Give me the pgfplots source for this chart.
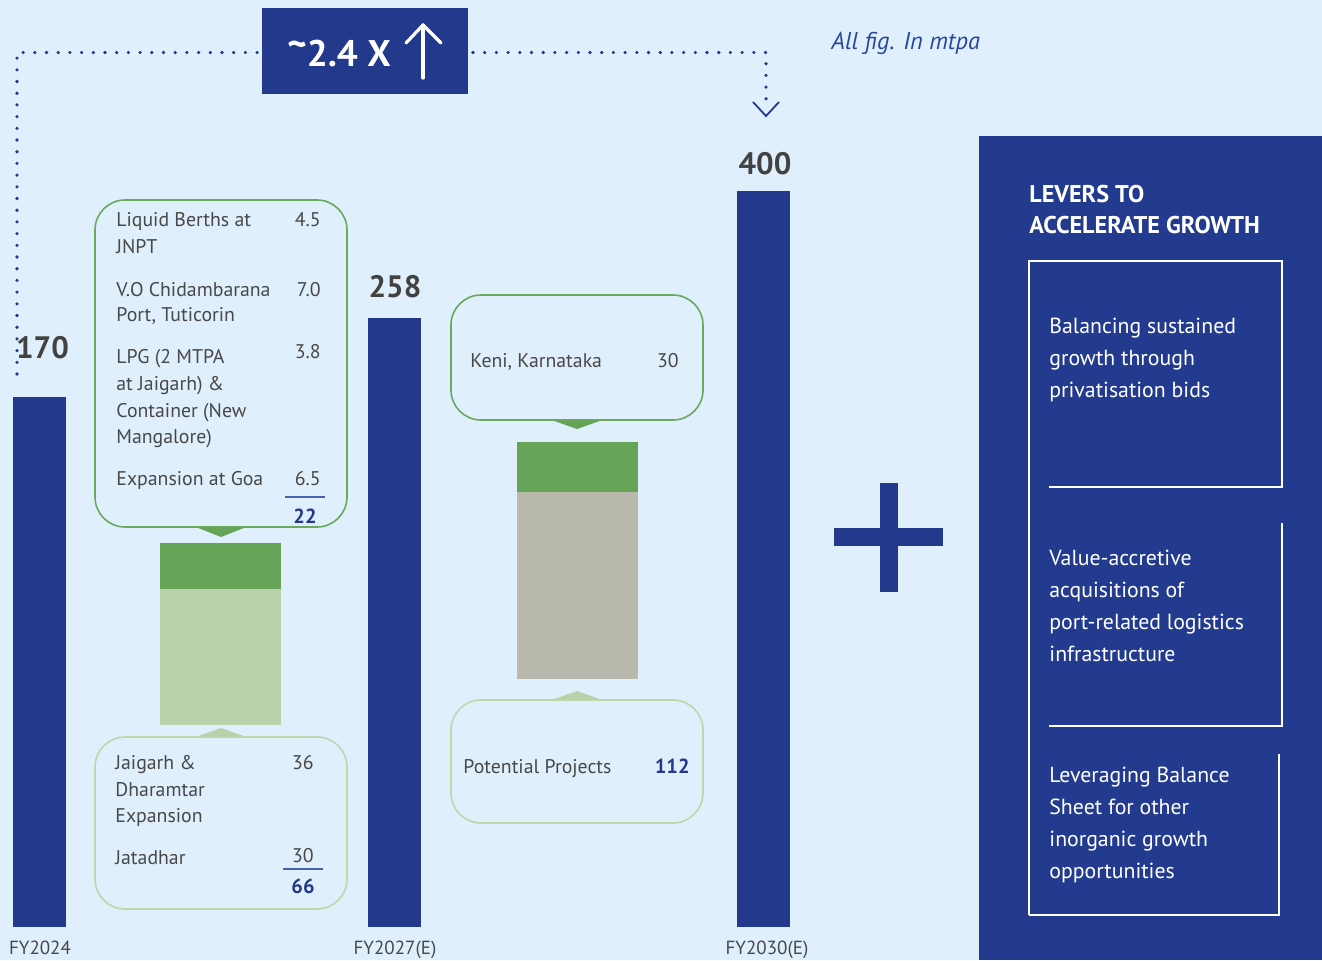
\documentclass[border=0pt]{standalone}
\usepackage{pgfplots}
\pgfplotsset{compat=1.18}
\usepackage{fontspec}
\setmainfont{PT Sans}

\definecolor{bg}{RGB}{223,240,252}
\definecolor{navy}{RGB}{34,57,140}
\definecolor{panel}{RGB}{35,59,142}
\definecolor{leafgreen}{RGB}{101,164,86}
\definecolor{palegreen}{RGB}{187,209,170}
\definecolor{stone}{RGB}{186,185,174}
\definecolor{greenedge}{RGB}{106,168,92}
\definecolor{lightedge}{RGB}{190,215,170}
\definecolor{ink}{RGB}{72,72,72}
\definecolor{valink}{RGB}{66,66,66}
\definecolor{rulecol}{RGB}{70,98,176}
\definecolor{figblue}{RGB}{40,70,160}

\newcommand\fs[1]{\fontsize{#1}{#1}\selectfont}

% capacity figures (mtpa)
\pgfplotstableread{
x   v
0.5 66
}\bridgeAbase
\pgfplotstableread{
x   v
0.5 22
}\bridgeAtop

\begin{document}
\begin{tikzpicture}
\fill[bg] (0pt,0pt) rectangle (661pt,-480pt);

% main capacity bars: one x unit = one pixel column, bars rise from a common base
\begin{axis}[at={(0pt,-480pt)}, anchor=south west, width=661pt, height=480pt,
  scale only axis, xmin=0, xmax=1322, ymin=-461.4, ymax=614.4,
  hide axis, clip=false]
\addplot[fill=navy, draw=none] coordinates {(13,-424.4) (13,170) (66,170) (66,-424.4)} -- cycle;
\addplot[fill=navy, draw=none] coordinates {(368,-424.4) (368,258) (421,258) (421,-424.4)} -- cycle;
\addplot[fill=navy, draw=none] coordinates {(737,-424.4) (737,400) (790,400) (790,-424.4)} -- cycle;
\node[anchor=base, inner sep=0, text=valink, font=\bfseries\fs{15.5}, yshift=19pt] at (axis cs:42.5,170) {170};
\node[anchor=base, inner sep=0, text=valink, font=\bfseries\fs{15.5}, yshift=10.5pt] at (axis cs:395,258) {258};
\node[anchor=base, inner sep=0, text=valink, font=\bfseries\fs{15.5}, yshift=8.5pt] at (axis cs:765,400) {400};
\end{axis}

% FY2027 additions: 66 (expansions) + 22 (new berths)
\begin{axis}[at={(80pt,-362.5pt)}, anchor=south west, width=60.5pt, height=91pt,
  scale only axis, xmin=0, xmax=1, ymin=0, ymax=88, hide axis,
  ybar stacked, bar width=60.5pt]
\addplot[fill=palegreen, draw=none] table[x=x, y=v] {\bridgeAbase};
\addplot[fill=leafgreen, draw=none] table[x=x, y=v] {\bridgeAtop};
\end{axis}

% FY2030 additions: 112 (potential projects) + 30 (Keni)
\begin{axis}[at={(258.5pt,-339.5pt)}, anchor=south west, width=60.5pt, height=118.5pt,
  scale only axis, xmin=0, xmax=1, ymin=0, ymax=142, hide axis,
  ybar stacked, bar width=60.5pt]
\addplot[fill=stone, draw=none] coordinates {(0.5,112)};
\addplot[fill=leafgreen, draw=none] coordinates {(0.5,30)};
\end{axis}

\begin{scope}[x=0.5pt, y=-0.5pt]
% growth bracket
\draw[navy, line width=1.8pt, line cap=round, dash pattern=on 0pt off 5.85pt]
  (17,374) -- (17,52.5) -- (262,52.5);
\draw[navy, line width=1.8pt, line cap=round, dash pattern=on 0pt off 5.85pt]
  (473,52.5) -- (766,52.5) -- (766,108);
\draw[navy, line width=0.9pt] (753,102) -- (766,116) -- (779,102);
\fill[navy] (262,8) rectangle (468,94);
\node[anchor=base west, inner sep=0, text=white, font=\bfseries\fs{18.5}] at (287,66) {\raisebox{0.22em}{\textasciitilde}2.4 X};
\draw[white, line width=1.6pt, line cap=round] (423,78) -- (423,25);
\draw[white, line width=1.6pt, line cap=round, line join=round] (406,43) -- (423,25) -- (441,43);
\node[anchor=base west, inner sep=0, text=figblue, font=\itshape\fs{12.2}] at (831,49) {All fig. In mtpa};

% FY2027 callouts
\draw[greenedge, line width=0.8pt, rounded corners=15pt] (95,200) rectangle (347,527);
\fill[leafgreen] (197,527.5) -- (245,527.5) -- (221,537) -- cycle;
\begin{scope}[every node/.style={inner sep=0, text=ink, font=\fs{9.9}}]
\node[anchor=base west] at (116,226) {Liquid Berths at};
\node[anchor=base west] at (116,253) {JNPT};
\node[anchor=base west] at (116,296) {V.O Chidambarana};
\node[anchor=base west] at (116,321) {Port, Tuticorin};
\node[anchor=base west] at (116,363) {LPG (2 MTPA};
\node[anchor=base west] at (116,390) {at Jaigarh) \&};
\node[anchor=base west] at (116,417) {Container (New};
\node[anchor=base west] at (116,443) {Mangalore)};
\node[anchor=base west] at (116,485) {Expansion at Goa};
\node[anchor=base east] at (321,226) {4.5};
\node[anchor=base east] at (321,296) {7.0};
\node[anchor=base east] at (321,358) {3.8};
\node[anchor=base east] at (321,485) {6.5};
\node[anchor=base east, text=navy, font=\bfseries\fs{10.2}] at (317,523) {22};
\end{scope}
\draw[rulecol, line width=0.8pt] (285,497) -- (325,497);

\draw[lightedge, line width=0.8pt, rounded corners=15pt] (95,737) rectangle (347,909);
\fill[palegreen] (197,736.5) -- (245,736.5) -- (221,728) -- cycle;
\begin{scope}[every node/.style={inner sep=0, text=ink, font=\fs{9.9}}]
\node[anchor=base west] at (115,769) {Jaigarh \&};
\node[anchor=base west] at (115,796) {Dharamtar};
\node[anchor=base west] at (115,822) {Expansion};
\node[anchor=base west] at (115,864) {Jatadhar};
\node[anchor=base east] at (314,769) {36};
\node[anchor=base east] at (314,862) {30};
\node[anchor=base east, text=navy, font=\bfseries\fs{10.2}] at (315,893) {66};
\end{scope}
\draw[rulecol, line width=0.8pt] (283,869) -- (323,869);

% FY2030 callouts
\draw[greenedge, line width=0.8pt, rounded corners=15pt] (451,295) rectangle (703,420);
\fill[leafgreen] (553,420.5) -- (601,420.5) -- (577,429) -- cycle;
\node[anchor=base west, inner sep=0, text=ink, font=\fs{9.9}] at (470,367) {Keni, Karnataka};
\node[anchor=base east, inner sep=0, text=ink, font=\fs{9.9}] at (679,367) {30};

\draw[lightedge, line width=0.8pt, rounded corners=15pt] (451,700) rectangle (703,823);
\fill[palegreen] (553,699.5) -- (601,699.5) -- (577,691) -- cycle;
\node[anchor=base west, inner sep=0, text=ink, font=\fs{9.9}] at (463,773) {Potential Projects};
\node[anchor=base east, inner sep=0, text=navy, font=\bfseries\fs{10.2}] at (690,773) {112};

% year labels
\begin{scope}[every node/.style={inner sep=0, anchor=base, text=ink, font=\fs{9.5}}]
\node at (40,954) {FY2024};
\node at (395,954) {FY2027(E)};
\node at (767,954) {FY2030(E)};
\end{scope}

% plus sign
\fill[navy] (834,528) rectangle (943,546);
\fill[navy] (880,483) rectangle (898,592);

% levers panel
\fill[panel] (979,136) rectangle (1322,960);
\node[anchor=base west, inner sep=0, text=white, font=\bfseries\fs{12.1}] at (1029,202) {LEVERS TO};
\node[anchor=base west, inner sep=0, text=white, font=\bfseries\fs{12.1}] at (1029,233) {ACCELERATE GROWTH};
\begin{scope}[white, line width=0.8pt]
\draw (1029,915) -- (1029,261) -- (1282,261) -- (1282,487) -- (1049,487);
\draw (1282,523) -- (1282,726) -- (1049,726);
\draw (1279,754) -- (1279,915) -- (1029,915);
\end{scope}
\begin{scope}[every node/.style={inner sep=0, anchor=base west, text=white, font=\fs{10.9}}]
\node at (1049,333) {Balancing sustained};
\node at (1049,365) {growth through};
\node at (1049,397) {privatisation bids};
\node at (1049,565) {Value-accretive};
\node at (1049,597) {acquisitions of};
\node at (1049,629) {port-related logistics};
\node at (1049,661) {infrastructure};
\node at (1049,782) {Leveraging Balance};
\node at (1049,814) {Sheet for other};
\node at (1049,846) {inorganic growth};
\node at (1049,878) {opportunities};
\end{scope}
\end{scope}
\end{tikzpicture}
\end{document}
